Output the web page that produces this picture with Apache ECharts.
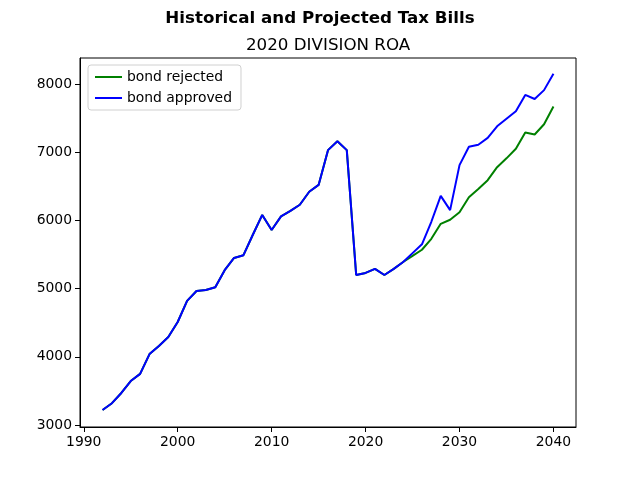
<!DOCTYPE html>
<html>
<head>
<meta charset="utf-8">
<script src="https://cdn.jsdelivr.net/npm/echarts@6/dist/echarts.min.js"></script>
<style>
  html, body { margin: 0; padding: 0; background: #fff; }
  #chart { width: 640px; height: 480px; }
</style>
</head>
<body>
<div id="chart"></div>
<script>
  // years 1992..2040
  const years = [];
  for (let y = 1992; y <= 2040; y++) years.push(y);

  // shared history 1992..2024
  const history = [
    3220, 3320, 3470, 3645, 3750, 4040, 4160, 4290, 4510, 4820,
    4965, 4980, 5020, 5270, 5450, 5490, 5790, 6080, 5860, 6060,
    6140, 6230, 6420, 6520, 7030, 7160, 7030, 5200, 5230, 5290,
    5200, 5290, 5390
  ];
  // projections 2025..2040
  const rejected = [
    5480, 5570, 5730, 5950, 6010, 6120, 6340, 6460, 6590, 6780,
    6910, 7050, 7290, 7260, 7410, 7670
  ];
  const approved = [
    5520, 5650, 5980, 6360, 6150, 6810, 7080, 7110, 7210, 7380,
    7490, 7600, 7840, 7780, 7910, 8150
  ];
  const xTicks = [1990, 2000, 2010, 2020, 2030, 2040];
  const yTicks = [3000, 4000, 5000, 6000, 7000, 8000];

  const font = "DejaVu Sans";
  const pairs = (vals) => vals.map((v, i) => [years[i], v]);

  let chart = echarts.init(document.getElementById("chart"));
  let option = {
    animation: false,
    textStyle: { fontFamily: font },
    title: [
      {
        text: "Historical and Projected Tax Bills",
        left: "center",
        top: 5,
        textStyle: { fontSize: 16.7, fontWeight: "bold", color: "#000", fontFamily: font }
      },
      {
        text: "2020 DIVISION ROA",
        left: 241,
        top: 32,
        textStyle: { fontSize: 16.7, fontWeight: "normal", color: "#000", fontFamily: font }
      }
    ],
    legend: {
      orient: "vertical",
      left: 88,
      top: 65,
      data: ["bond rejected", "bond approved"],
      icon: "rect",
      itemWidth: 27,
      itemHeight: 2,
      itemGap: 7,
      padding: [5, 9, 5, 7],
      backgroundColor: "#fff",
      borderColor: "#d0d0d0",
      borderWidth: 1,
      borderRadius: 3,
      textStyle: { fontSize: 13.9, color: "#000", fontFamily: font }
    },
    grid: {
      left: 80,
      right: 64,
      top: 58,
      bottom: 53,
      show: true,
      borderColor: "#000",
      borderWidth: 1
    },
    xAxis: {
      type: "value",
      min: 1989.6,
      max: 2042.4,
      splitLine: { show: false },
      axisLine: { lineStyle: { color: "#000", width: 1 } },
      axisTick: { show: true, length: 5, customValues: xTicks, lineStyle: { color: "#000" } },
      axisLabel: {
        customValues: xTicks, color: "#000", fontSize: 13.9, margin: 8, fontFamily: font,
        formatter: (v) => String(v)
      }
    },
    yAxis: {
      type: "value",
      min: 2971,
      max: 8381,
      splitLine: { show: false },
      axisLine: { show: true, lineStyle: { color: "#000", width: 1 } },
      axisTick: { show: true, length: 5, customValues: yTicks, lineStyle: { color: "#000" } },
      axisLabel: {
        customValues: yTicks, color: "#000", fontSize: 13.9, margin: 8, fontFamily: font,
        formatter: (v) => String(v)
      }
    },
    series: [
      {
        name: "bond rejected",
        type: "line",
        showSymbol: false,
        color: "#008000",
        lineStyle: { color: "#008000", width: 2 },
        data: pairs(history.concat(rejected))
      },
      {
        name: "bond approved",
        type: "line",
        showSymbol: false,
        color: "#0000ff",
        lineStyle: { color: "#0000ff", width: 2 },
        data: pairs(history.concat(approved))
      }
    ]
  };
  chart.setOption(option);
</script>
</body>
</html>
